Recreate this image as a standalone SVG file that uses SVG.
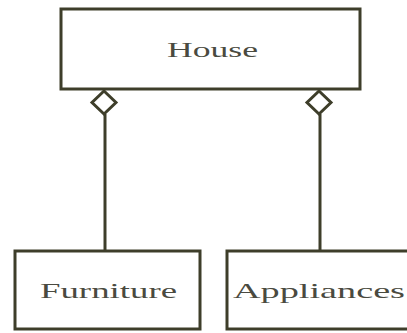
<svg xmlns="http://www.w3.org/2000/svg" width="407" height="333" viewBox="0 0 407 333">
<style>
.box{fill:#ffffff;stroke:#3e3e2a;stroke-width:3}
.lbl{font-family:"Liberation Serif","Times New Roman",serif;font-size:22px;fill:#4a4a40;text-anchor:start}
.conn{stroke:#3e3e2a;stroke-width:3;fill:none}
.dia{fill:#ffffff;stroke:#3e3e2a;stroke-width:3}
</style>
<rect width="407" height="333" fill="#ffffff"/>
<g id="house">
<rect class="box" x="61" y="9" width="299" height="80"/>
<text class="lbl" x="167" y="57" textLength="91" lengthAdjust="spacingAndGlyphs">House</text>
</g>
<g id="furniture">
<rect class="box" x="15" y="251" width="185" height="78"/>
<text class="lbl" x="40" y="298" textLength="137" lengthAdjust="spacingAndGlyphs">Furniture</text>
</g>
<g id="appliances">
<rect class="box" x="227" y="251" width="184" height="78"/>
<text class="lbl" x="233" y="298" textLength="172" lengthAdjust="spacingAndGlyphs">Appliances</text>
</g>
<g id="connectors">
<line class="conn" x1="105" y1="114" x2="105" y2="251"/>
<polygon class="dia" points="104,91 116,102.5 104,114 92,102.5"/>
<line class="conn" x1="320" y1="114" x2="320" y2="251"/>
<polygon class="dia" points="319,91 331,102.5 319,114 307,102.5"/>
</g>
</svg>
